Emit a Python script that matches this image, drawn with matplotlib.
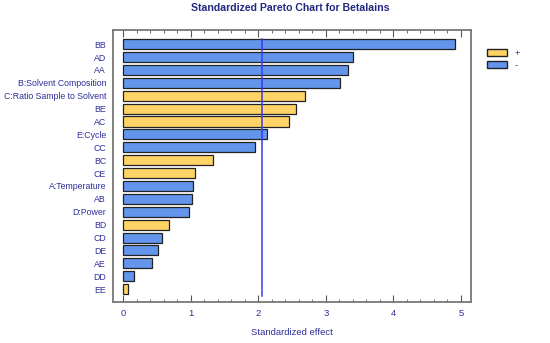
import matplotlib

matplotlib.use("Agg")
import matplotlib.pyplot as plt
from matplotlib.patches import Patch
from matplotlib.ticker import MultipleLocator

# --- data (top to bottom) ---
terms = ["BB", "AD", "AA", "B:Solvent Composition", "C:Ratio Sample to Solvent",
         "BE", "AC", "E:Cycle", "CC", "BC", "CE", "A:Temperature", "AB",
         "D:Power", "BD", "CD", "DE", "AE", "DD", "EE"]
effects = [4.92, 3.40, 3.33, 3.21, 2.70, 2.56, 2.46, 2.13, 1.95, 1.33,
           1.065, 1.03, 1.02, 0.97, 0.68, 0.58, 0.52, 0.43, 0.17, 0.08]
signs = ["-", "-", "-", "-", "+", "+", "+", "-", "-", "+",
         "+", "-", "-", "-", "+", "-", "-", "-", "-", "+"]
critical = 2.06

POS, NEG = "#FFD466", "#6495ED"
TXT = "#2E2E9A"

plt.rcParams["font.family"] = ["Liberation Sans", "DejaVu Sans"]

fig = plt.figure(figsize=(5.5, 3.43), dpi=100)
ax = fig.add_axes([113 / 550, 1 - 302 / 343, (471 - 113) / 550, (302 - 30) / 343])

y = list(range(len(terms)))
colors = [POS if s == "+" else NEG for s in signs]
ax.barh(y, effects, height=0.78, color=colors, edgecolor="#222222", linewidth=0.9)
ax.axvline(critical, ymin=0.023, ymax=0.967, color="#3A3AF0", linewidth=1.1)

ax.set_ylim(len(terms) - 1 + 1.0, -1.1)
ax.set_xlim(-0.148, 5.15)
ax.set_yticks(y)
ax.set_yticklabels(terms, color=TXT, fontsize=6.3)
ax.tick_params(axis="y", length=0, pad=5)

ax.xaxis.set_major_locator(MultipleLocator(1))
ax.xaxis.set_minor_locator(MultipleLocator(0.2))
ax.tick_params(axis="x", which="both", direction="in", top=True, bottom=True,
               colors="#555555", labelcolor=TXT, labelsize=6.8, pad=5)
ax.tick_params(axis="x", which="major", length=5, width=0.8)
ax.tick_params(axis="x", which="minor", length=2.5, width=0.6)
for sp in ax.spines.values():
    sp.set_color("#777777")
    sp.set_linewidth(1.3)

ax.set_xlabel("Standardized effect", color=TXT, fontsize=6.8, labelpad=7)
fig.suptitle("Standardized Pareto Chart for Betalains", x=290 / 550, y=1 - 3 / 343,
             color="#1F2A80", fontsize=7.6, fontweight="bold", va="top")

handles = [Patch(facecolor=POS, edgecolor="#222222", label="+"),
           Patch(facecolor=NEG, edgecolor="#222222", label="-")]
fig.legend(handles=handles, loc="upper left", bbox_to_anchor=(478 / 550, 1 - 40 / 343),
           frameon=False, fontsize=6.8, labelcolor=TXT, handlelength=2.2,
           handleheight=0.9, labelspacing=0.3, handletextpad=0.8)

fig.savefig("out.png", dpi=100)
